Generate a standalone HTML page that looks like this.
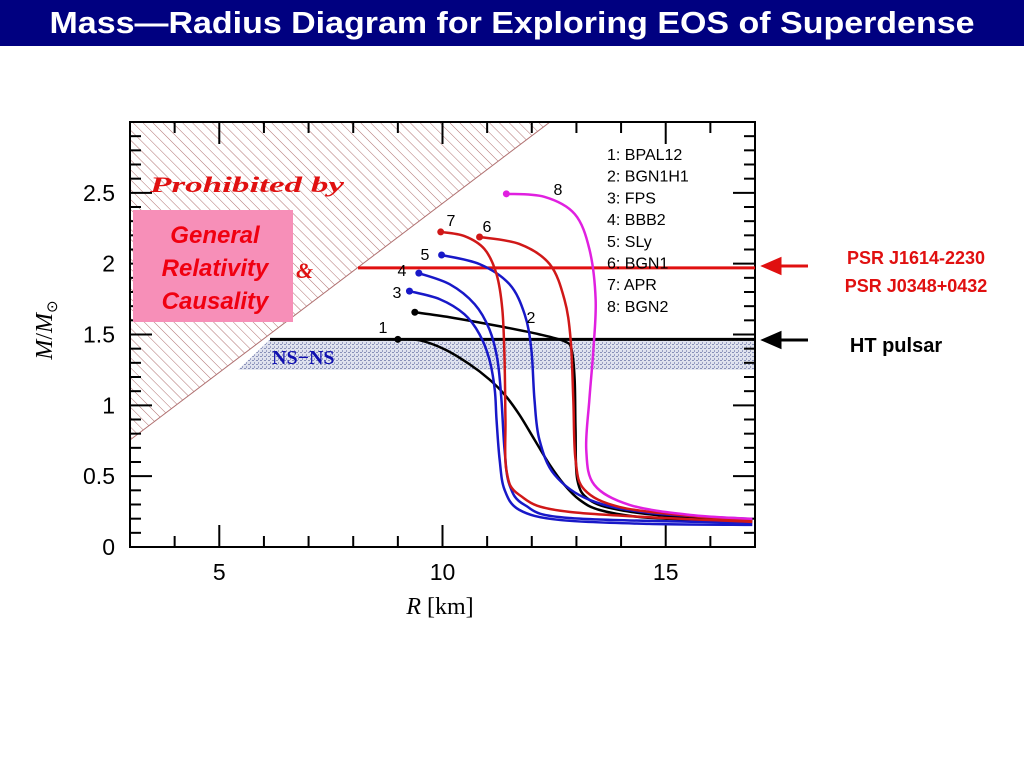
<!DOCTYPE html>
<html><head><meta charset="utf-8"><style>
html,body{margin:0;padding:0;background:#fff;}
svg{display:block;font-family:"Liberation Sans",sans-serif;}
</style></head><body>
<svg id="chart" width="1024" height="768" viewBox="0 0 1024 768">
<defs>
<pattern id="hatch" patternUnits="userSpaceOnUse" width="7" height="7" patternTransform="rotate(-45)">
<line x1="0" y1="0" x2="0" y2="7" stroke="#b07070" stroke-width="1"/>
</pattern>
<pattern id="dots" patternUnits="userSpaceOnUse" width="4" height="4">
<rect width="4" height="4" fill="#dfe2ee"/>
<rect x="0" y="0" width="2" height="1" fill="#8890b8"/>
<rect x="2" y="2" width="1" height="2" fill="#9aa0c4"/>
</pattern>
<clipPath id="plotclip"><rect x="130" y="122" width="625" height="425"/></clipPath>
</defs>
<rect x="0" y="0" width="1024" height="46" fill="#000080"/>
<text x="512" y="33" text-anchor="middle" fill="#fff" font-weight="bold" font-size="31" textLength="925" lengthAdjust="spacingAndGlyphs">Mass—Radius Diagram for Exploring EOS of Superdense</text>
<g id="plot"></g>
</svg>
<script>
const xTicks=[5,10,15];
const yTicks=[0,0.5,1,1.5,2,2.5];
const yTickLabels=["0","0.5","1","1.5","2","2.5"];
const legendLabels=["1: BPAL12","2: BGN1H1","3: FPS","4: BBB2","5: SLy","6: BGN1","7: APR","8: BGN2"];
const curveColors=["#000","#000","#1818c8","#1818c8","#1818c8","#d01818","#d01818","#e020e0"];
const curveR=[
[9.00,9.49,10.05,10.61,11.05,11.39,11.72,12.06,12.40,12.73,13.07,13.51,14.41,15.75,16.94],
[9.38,10.16,11.28,12.17,12.73,12.89,12.96,12.98,13.02,13.29,13.96,15.30,16.94],
[9.26,9.94,10.49,10.83,11.05,11.17,11.21,11.28,11.39,11.72,12.62,14.63,16.94],
[9.47,10.16,10.72,11.05,11.23,11.32,11.39,11.50,11.84,12.84,16.94],
[9.98,10.83,11.50,11.84,11.99,12.06,12.17,12.51,13.29,14.63,16.94],
[10.83,11.72,12.40,12.73,12.87,12.93,12.98,13.18,13.96,15.53,16.94],
[9.96,10.49,10.94,11.21,11.34,11.39,11.41,11.43,11.72,12.84,16.94],
[11.43,12.28,12.96,13.29,13.43,13.38,13.29,13.22,13.40,14.19,15.53,16.94]];
const curveM=[
[1.466,1.459,1.395,1.289,1.183,1.076,0.935,0.758,0.581,0.439,0.333,0.262,0.212,0.191,0.184],
[1.657,1.622,1.558,1.501,1.452,1.395,1.183,0.829,0.475,0.333,0.262,0.212,0.191],
[1.806,1.749,1.643,1.501,1.324,1.112,0.899,0.616,0.404,0.262,0.191,0.163,0.156],
[1.933,1.855,1.714,1.537,1.324,1.041,0.687,0.439,0.297,0.205,0.170],
[2.061,1.997,1.855,1.643,1.395,1.041,0.758,0.510,0.333,0.241,0.198],
[2.188,2.139,1.997,1.749,1.466,1.041,0.616,0.404,0.283,0.220,0.191],
[2.224,2.195,2.103,1.926,1.678,1.324,0.899,0.545,0.368,0.248,0.177],
[2.493,2.472,2.351,2.103,1.749,1.395,1.041,0.687,0.439,0.297,0.227,0.198]];
const curveTags=["1","2","3","4","5","6","7","8"];
const pulsarM=[1.97,1.466];
const nsnsBand=[1.25,1.466];

const NS="http://www.w3.org/2000/svg";
const X0=130,X1=755,Y0=547,Y1=122,RMIN=3,RMAX=17,MMIN=0,MMAX=3;
const xs=r=>X0+(r-RMIN)/(RMAX-RMIN)*(X1-X0);
const ys=m=>Y0-(m-MMIN)/(MMAX-MMIN)*(Y0-Y1);
const g=document.getElementById('plot');
function mk(tag,attrs,parent){const e=document.createElementNS(NS,tag);for(const k in attrs)e.setAttribute(k,attrs[k]);(parent||g).appendChild(e);return e;}

const hatch=mk('polygon',{points:`${X0},${Y1} 550,${Y1} ${X0},440`,fill:'url(#hatch)'});


mk('line',{x1:X0,y1:440,x2:550,y2:Y1,stroke:'#b07070','stroke-width':1});
const band=mk('polygon',{points:`${270-32},${ys(nsnsBand[0])} ${X1},${ys(nsnsBand[0])} ${X1},${ys(nsnsBand[1])} 270,${ys(nsnsBand[1])}`,fill:'url(#dots)','clip-path':'url(#plotclip)'});


const nt=mk('text',{x:272,y:364,fill:'#1010b0','font-size':20,'font-weight':'bold','font-family':'"Liberation Serif",serif'});nt.textContent='NS−NS';



const frame=mk('rect',{x:X0,y:Y1,width:X1-X0,height:Y0-Y1,fill:'none',stroke:'#000','stroke-width':2});


for(let r=4;r<=16;r++){const maj=xTicks.includes(r);const L=maj?22:11;
 mk('line',{x1:xs(r),y1:Y0,x2:xs(r),y2:Y0-L,stroke:'#000','stroke-width':2});
 mk('line',{x1:xs(r),y1:Y1,x2:xs(r),y2:Y1+L,stroke:'#000','stroke-width':2});}
xTicks.forEach(t=>{const e=mk('text',{x:xs(t),y:580,'text-anchor':'middle','font-size':23});e.textContent=t;
 
 });
for(let i=1;i<30;i++){const m=i/10;const maj=Math.abs(m*2-Math.round(m*2))<1e-6;const L=maj?22:11;
 mk('line',{x1:X0,y1:ys(m),x2:X0+L,y2:ys(m),stroke:'#000','stroke-width':2});
 mk('line',{x1:X1,y1:ys(m),x2:X1-L,y2:ys(m),stroke:'#000','stroke-width':2});}
yTicks.forEach((t,i)=>{const e=mk('text',{x:115,y:ys(t)+8,'text-anchor':'end','font-size':23});e.textContent=yTickLabels[i];
 
 });
const xt=mk('text',{x:440,y:614,'text-anchor':'middle','font-size':24,'font-family':'"Liberation Serif",serif'});
xt.innerHTML='<tspan font-style="italic">R</tspan>  [km]';


const yt=mk('text',{x:0,y:0,'text-anchor':'middle','font-size':24,'font-family':'"Liberation Serif",serif',transform:'translate(52,330) rotate(-90)'});
yt.innerHTML='<tspan font-style="italic">M</tspan>/<tspan font-style="italic">M</tspan><tspan font-size="15" dy="5">⊙</tspan>';



const hl=mk('line',{x1:270,y1:ys(pulsarM[1]),x2:X1,y2:ys(pulsarM[1]),stroke:'#000','stroke-width':3});


const rl=mk('line',{x1:358,y1:ys(pulsarM[0]),x2:X1,y2:ys(pulsarM[0]),stroke:'#e01010','stroke-width':3});



curveR.forEach((rs,i)=>{
 const pts=rs.map((r,j)=>[xs(r),ys(curveM[i][j])]);
 let d=`M${pts[0][0]},${pts[0][1]}`;
 for(let j=0;j<pts.length-1;j++){const p0=pts[Math.max(0,j-1)],p1=pts[j],p2=pts[j+1],p3=pts[Math.min(pts.length-1,j+2)];
  d+=` C${p1[0]+(p2[0]-p0[0])/6},${p1[1]+(p2[1]-p0[1])/6} ${p2[0]-(p3[0]-p1[0])/6},${p2[1]-(p3[1]-p1[1])/6} ${p2[0]},${p2[1]}`;}
 const c=mk('path',{d:d,fill:'none',stroke:curveColors[i],'stroke-width':2.5,'clip-path':'url(#plotclip)'});
 
 
 const dot=mk('circle',{cx:pts[0][0],cy:pts[0][1],r:3.5,fill:curveColors[i]});
 
 
});
const tagPos=[[383,333],[531,323],[397,298],[402,276],[425,260],[487,232],[451,226],[558,195]];
curveTags.forEach((t,i)=>{const e=mk('text',{x:tagPos[i][0],y:tagPos[i][1],'font-size':16,'text-anchor':'middle'});e.textContent=t;
 
 });

legendLabels.forEach((l,i)=>{const e=mk('text',{x:607,y:160+i*21.7,'font-size':16});e.textContent=l;
 
 });

const pt=mk('text',{x:150,y:192,fill:'#e01010','font-size':22,'font-weight':'bold','font-style':'italic','font-family':'"Liberation Serif",serif',textLength:'194',lengthAdjust:'spacingAndGlyphs'});pt.textContent='Prohibited  by';


const amp=mk('text',{x:296,y:278,fill:'#e01010','font-size':22,'font-weight':'bold','font-style':'italic','font-family':'"Liberation Serif",serif'});amp.textContent='&';


const box=mk('rect',{x:133,y:210,width:160,height:112,fill:'#f78fb8'});


['General','Relativity','Causality'].forEach((t,i)=>{const e=mk('text',{x:215,y:243+i*33,'text-anchor':'middle',fill:'#f00010','font-size':24,'font-weight':'bold','font-style':'italic'});e.textContent=t;
 
 });

const ra=mk('path',{d:'M808,266 L778,266 M764,266 L780,259 L780,273 Z',stroke:'#e01010','stroke-width':3,fill:'#e01010'});


const ba=mk('path',{d:'M808,340 L778,340 M764,340 L780,333 L780,347 Z',stroke:'#000','stroke-width':3,fill:'#000'});


[['PSR J1614-2230',264],['PSR J0348+0432',292]].forEach(a=>{const e=mk('text',{x:916,y:a[1],'text-anchor':'middle',fill:'#e01010','font-size':18,'font-weight':'bold'});e.textContent=a[0];
 
 });
const hp=mk('text',{x:896,y:352,'text-anchor':'middle',fill:'#000','font-size':20,'font-weight':'bold'});hp.textContent='HT pulsar';


</script>
</body></html>
